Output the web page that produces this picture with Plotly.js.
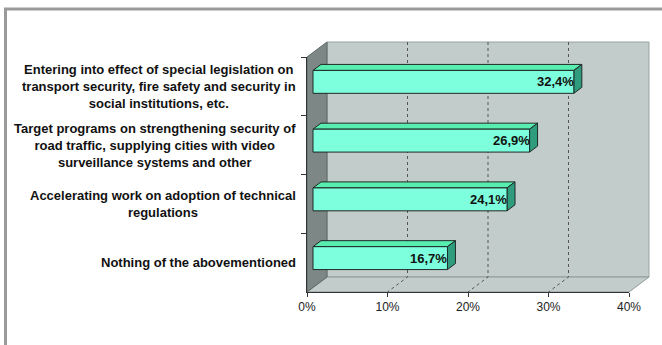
<!DOCTYPE html>
<html>
<head>
<meta charset="utf-8">
<script src="https://cdn.plot.ly/plotly-3.0.1.min.js"></script>
<style>html,body{margin:0;padding:0;background:#fff;}#chart{width:662px;height:345px;}</style>
</head>
<body>
<div id="chart"></div>
<script>
// ---- data ----
const categories = [
  "Entering into effect of special legislation on<br>transport security, fire safety and security in<br>social institutions, etc.",
  "Target programs on strengthening security of<br>road traffic, supplying cities with video<br>surveillance systems and other",
  "Accelerating work on adoption of technical<br>regulations",
  "Nothing of the abovementioned"
];
const values = [32.4, 26.9, 24.1, 16.7];
const xTickVals = [0, 10, 20, 30, 40];
const xTickText = ["0%", "10%", "20%", "30%", "40%"];

// ---- layout constants ----
const W = 662, H = 345;
const M = {l: 307, r: 33, t: 57, b: 53};
const plotW = W - M.l - M.r, plotH = H - M.t - M.b;
const XMAX = 40;
const pxPerPct = plotW / XMAX;
const pxPerCat = plotH / categories.length;
const WALL_DX = 20, WALL_DY = 15;          // depth of the 3D box in px
const BAR_FRONT_DX = 6, BAR_FRONT_DY = 4.5; // bar front face shift in px
const BAR_DEPTH_DX = 8, BAR_DEPTH_DY = 6;   // bar depth in px
const BAR_W = 0.39;

const FONT = "Liberation Sans, Arial, sans-serif";
const base = BAR_FRONT_DX / pxPerPct;
const offY = -BAR_W / 2 - BAR_FRONT_DY / pxPerCat;
const ddx = BAR_DEPTH_DX / pxPerPct, ddy = BAR_DEPTH_DY / pxPerCat;

const wx = WALL_DX / plotW, wy = WALL_DY / plotH;

const shapes = [];
// outer frame
shapes.push({type: "rect", xref: "paper", yref: "paper", layer: "below",
  x0: (5.5 - M.l) / plotW, x1: (W + 20 - M.l) / plotW,
  y0: (H - M.b - (H + 20)) / plotH, y1: (H - M.b - 9) / plotH,
  line: {color: "#9a9a9a", width: 3}, fillcolor: "rgba(0,0,0,0)"});
// back wall
shapes.push({type: "rect", xref: "paper", yref: "paper", layer: "below",
  x0: wx, x1: 1 + wx, y0: wy, y1: 1 + wy,
  fillcolor: "#c2cccb", line: {color: "#98a3a2", width: 1}});
// floor
shapes.push({type: "path", xref: "paper", yref: "paper", layer: "below",
  path: `M0,0 L${wx},${wy} L${1 + wx},${wy} L1,0 Z`,
  fillcolor: "#c2cccb", line: {color: "#8e9998", width: 1}});
// left wall
shapes.push({type: "path", xref: "paper", yref: "paper", layer: "below",
  path: `M0,0 L0,1 L${wx},${1 + wy} L${wx},${wy} Z`,
  fillcolor: "#7c8786", line: {color: "#5e6867", width: 1}});
// back gridlines (dotted)
xTickVals.slice(1, -1).forEach(t => {
  const xf = t / XMAX;
  shapes.push({type: "path", xref: "paper", yref: "paper", layer: "below",
    path: `M${xf + wx},${1 + wy} L${xf + wx},${wy} L${xf},0`,
    line: {color: "#555", width: 1, dash: "dot"}});
});
// bar 3D faces
categories.forEach((c, i) => {
  const v = values[i];
  const yt = i + offY, yb = i + offY + BAR_W;
  shapes.push({type: "path", xref: "x", yref: "y", layer: "below",
    path: `M${base},${yt} L${base + v},${yt} L${base + v + ddx},${yt - ddy} L${base + ddx},${yt - ddy} Z`,
    fillcolor: "#58eeb0", line: {color: "#1e2a26", width: 1}});
  shapes.push({type: "path", xref: "x", yref: "y", layer: "below",
    path: `M${base + v},${yt} L${base + v + ddx},${yt - ddy} L${base + v + ddx},${yb - ddy} L${base + v},${yb} Z`,
    fillcolor: "#2f9d7d", line: {color: "#1e2a26", width: 1}});
});

const annotations = [];
categories.forEach((c, i) => {
  annotations.push({xref: "paper", yref: "y", x: 0, y: i, xanchor: "right", yanchor: "middle",
    xshift: -9, text: "<b>" + c + "</b>", showarrow: false, align: "center",
    font: {family: FONT, size: 13, color: "#111"}});
  annotations.push({xref: "x", yref: "y", x: values[i], y: i, xanchor: "right", yanchor: "middle",
    xshift: BAR_FRONT_DX + 2, yshift: BAR_FRONT_DY, showarrow: false,
    text: "<b>" + values[i].toFixed(1).replace(".", ",") + "%</b>",
    font: {family: FONT, size: 13, color: "#111"}});
});

const trace = {
  type: "bar", orientation: "h",
  y: categories, x: values, base: base,
  width: BAR_W, offset: offY,
  marker: {color: "#7dfedc", line: {color: "#1e2a26", width: 1}},
  hoverinfo: "skip"
};

const layout = {
  width: W, height: H,
  margin: M,
  paper_bgcolor: "#ffffff",
  plot_bgcolor: "rgba(0,0,0,0)",
  showlegend: false,
  font: {family: FONT, size: 12, color: "#222"},
  xaxis: {range: [0, XMAX], tickvals: xTickVals, ticktext: xTickText,
    showgrid: false, zeroline: false, showline: true, linecolor: "#333", linewidth: 1,
    ticks: "outside", ticklen: 4, tickcolor: "#333",
    tickfont: {family: FONT, size: 12, color: "#222"}, fixedrange: true},
  yaxis: {type: "category", categoryorder: "array", categoryarray: categories,
    range: [categories.length - 0.5, -0.5],
    showticklabels: false, showgrid: false, zeroline: false,
    showline: true, linecolor: "#333", linewidth: 1,
    ticks: "outside", tickson: "boundaries", ticklen: 5, tickcolor: "#333", fixedrange: true},
  shapes: shapes,
  annotations: annotations
};

Plotly.newPlot("chart", [trace], layout, {displayModeBar: false, staticPlot: true});
</script>
</body>
</html>
